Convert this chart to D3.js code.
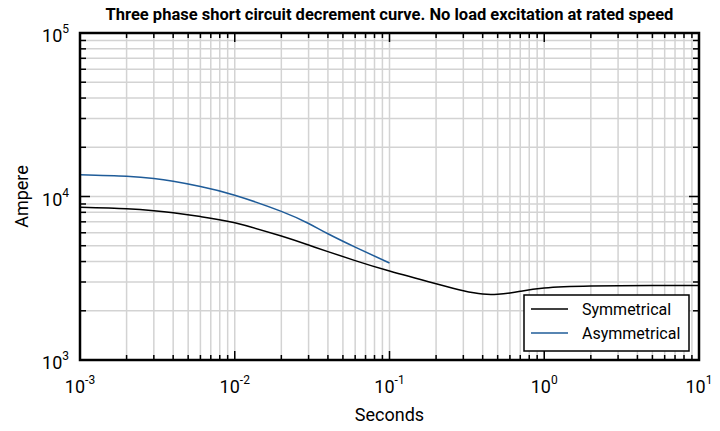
<!DOCTYPE html>
<html>
<head>
<meta charset="utf-8">
<script src="https://cdn.jsdelivr.net/npm/d3@7"></script>
<style>
  body { margin: 0; background: #fff; }
  text { font-family: Roboto, "Noto Sans", sans-serif; fill: #000; }
</style>
</head>
<body>
<div class="chart"></div>
<script>
// data (seconds -> ampere)
var symTime = [0.001, 0.002, 0.003, 0.004, 0.006, 0.01, 0.02, 0.03, 0.04, 0.06, 0.1, 0.2, 0.3, 0.4, 0.5, 0.6, 0.7, 1, 2, 5, 10];
var symAmp  = [8590, 8414, 8185, 7943, 7534, 6902, 5728, 5047, 4603, 4055, 3499, 2924, 2650, 2530, 2525, 2570, 2630, 2754, 2831, 2858, 2858];

var asymTime = [0.001, 0.002, 0.003, 0.004, 0.006, 0.01, 0.02, 0.03, 0.04, 0.06, 0.1];
var asymAmp  = [13590, 13300, 12880, 12380, 11510, 10180, 8110, 6840, 5915, 4900, 3920];

var seriesNames = ["Symmetrical", "Asymmetrical"];
var seriesColors = ["#000000", "#1f5c99"];

var xTickExp = [-3, -2, -1, 0, 1];
var yTickExp = [3, 4, 5];

var svgWidth = 720;
var svgHeight = 431;

var margin = { top: 33, right: 21, bottom: 71, left: 80 };
var width = svgWidth - margin.left - margin.right;
var height = svgHeight - margin.top - margin.bottom;

var svg = d3.select(".chart")
  .append("svg")
  .attr("width", svgWidth)
  .attr("height", svgHeight);

var chartGroup = svg.append("g")
  .attr("transform", `translate(${margin.left}, ${margin.top})`);

var xScale = d3.scaleLog().domain([1e-3, 10]).range([0, width]);
var yScale = d3.scaleLog().domain([1e3, 1e5]).range([height, 0]);

var xTicks = xScale.ticks();
var yTicks = yScale.ticks();
function isMajor(v) {
  var l = Math.log10(v);
  return Math.abs(l - Math.round(l)) < 1e-9;
}

// grid
chartGroup.append("g")
  .selectAll("line")
  .data(xTicks)
  .enter()
  .append("line")
  .attr("x1", d => xScale(d)).attr("x2", d => xScale(d))
  .attr("y1", 0).attr("y2", height)
  .attr("stroke", "#d3d3d3")
  .attr("stroke-width", 1.5);

chartGroup.append("g")
  .selectAll("line")
  .data(yTicks)
  .enter()
  .append("line")
  .attr("y1", d => yScale(d)).attr("y2", d => yScale(d))
  .attr("x1", 0).attr("x2", width)
  .attr("stroke", "#d3d3d3")
  .attr("stroke-width", 1.5);

// lines
var line = d3.line()
  .x(d => xScale(d[0]))
  .y(d => yScale(d[1]))
  .curve(d3.curveNatural);

var symData = symTime.map((t, i) => [t, symAmp[i]]);
var asymData = asymTime.map((t, i) => [t, asymAmp[i]]);

chartGroup.append("path")
  .datum(symData)
  .attr("d", line)
  .attr("fill", "none")
  .attr("stroke", seriesColors[0])
  .attr("stroke-width", 1.5);

chartGroup.append("path")
  .datum(asymData)
  .attr("d", line)
  .attr("fill", "none")
  .attr("stroke", seriesColors[1])
  .attr("stroke-width", 1.5);

// ticks pointing inward on all four sides
var tickG = chartGroup.append("g").attr("stroke", "#000").attr("stroke-width", 1.5);
xTicks.forEach(function(v) {
  var len = isMajor(v) ? 9 : 5;
  var x = xScale(v);
  tickG.append("line").attr("x1", x).attr("x2", x).attr("y1", height).attr("y2", height - len);
  tickG.append("line").attr("x1", x).attr("x2", x).attr("y1", 0).attr("y2", len);
});
yTicks.forEach(function(v) {
  var len = isMajor(v) ? 10 : 6;
  var y = yScale(v);
  tickG.append("line").attr("y1", y).attr("y2", y).attr("x1", 0).attr("x2", len);
  tickG.append("line").attr("y1", y).attr("y2", y).attr("x1", width).attr("x2", width - len);
});

// frame
chartGroup.append("rect")
  .attr("x", 0).attr("y", 0)
  .attr("width", width).attr("height", height)
  .attr("fill", "none")
  .attr("stroke", "#000")
  .attr("stroke-width", 2.5);

// tick labels
xTickExp.forEach(function(e) {
  var t = chartGroup.append("text")
    .attr("x", xScale(Math.pow(10, e)))
    .attr("y", height + 33)
    .attr("text-anchor", "middle")
    .style("font-size", "18px");
  t.append("tspan").text("10");
  t.append("tspan").attr("dy", -9).style("font-size", "12px").text(e);
});

yTickExp.forEach(function(e) {
  var t = chartGroup.append("text")
    .attr("x", -11)
    .attr("y", yScale(Math.pow(10, e)) + 9)
    .attr("text-anchor", "end")
    .style("font-size", "18px");
  t.append("tspan").text("10");
  t.append("tspan").attr("dy", -9).style("font-size", "12px").text(e);
});

// axis labels
chartGroup.append("text")
  .attr("transform", "rotate(-90)")
  .attr("x", -height / 2)
  .attr("y", -52)
  .attr("text-anchor", "middle")
  .style("font-size", "18px")
  .text("Ampere");

chartGroup.append("text")
  .attr("x", width / 2)
  .attr("y", height + 61)
  .attr("text-anchor", "middle")
  .style("font-size", "18px")
  .text("Seconds");

// title
svg.append("text")
  .attr("x", margin.left + width / 2)
  .attr("y", 20)
  .attr("text-anchor", "middle")
  .style("font-size", "16.5px")
  .style("font-weight", "bold")
  .text("Three phase short circuit decrement curve. No load excitation at rated speed");

// legend
var legend = svg.append("g").attr("transform", "translate(524, 295)");
legend.append("rect")
  .attr("width", 165).attr("height", 56)
  .attr("fill", "#fff")
  .attr("stroke", "#000")
  .attr("stroke-width", 1.5);
seriesNames.forEach(function(name, i) {
  var y = 14 + i * 24;
  legend.append("line")
    .attr("x1", 7).attr("x2", 44)
    .attr("y1", y).attr("y2", y)
    .attr("stroke", seriesColors[i])
    .attr("stroke-width", 1.5);
  legend.append("text")
    .attr("x", 58)
    .attr("y", y + 6)
    .style("font-size", "16px")
    .text(name);
});
</script>
</body>
</html>
